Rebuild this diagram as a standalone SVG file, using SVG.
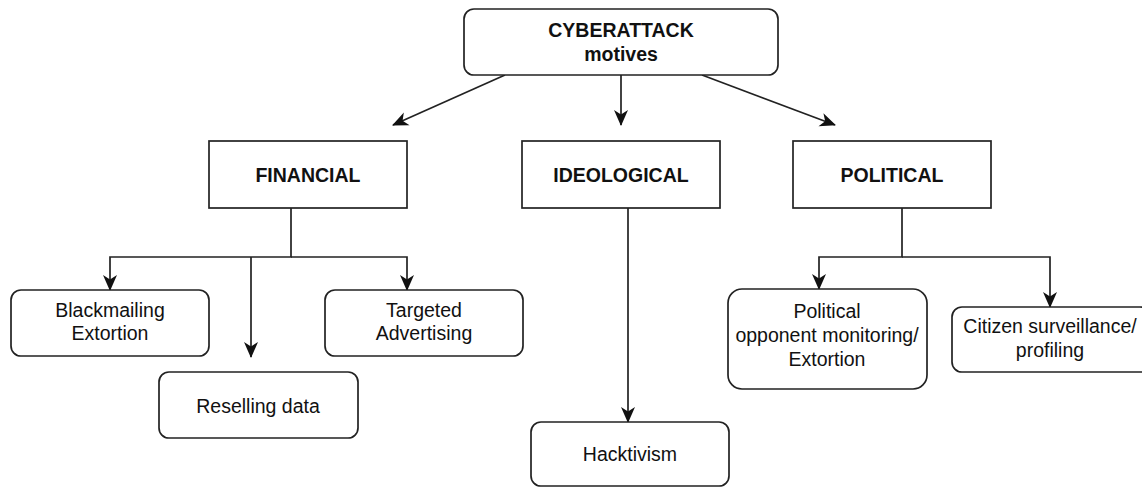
<svg xmlns="http://www.w3.org/2000/svg" width="1142" height="487" viewBox="0 0 1142 487">
  <defs>
    <marker id="arrow" viewBox="0 0 16 16" refX="15" refY="8" markerWidth="16" markerHeight="16" markerUnits="userSpaceOnUse" orient="auto">
      <path d="M0,1 L16,8 L0,15 L4.5,8 Z" fill="#111"/>
    </marker>
    <style>
      .box { fill: #fff; stroke: #222; stroke-width: 1.7; }
      .link { fill: none; stroke: #222; stroke-width: 1.7; }
      .label { font-family: "Liberation Sans", Arial, sans-serif; font-size: 19.5px; fill: #111; text-anchor: middle; }
      .bold { font-weight: bold; }
    </style>
  </defs>
  <rect width="1142" height="487" fill="#fff"/>

  <!-- connectors -->
  <g id="connectors">
    <line class="link" x1="505" y1="75" x2="393" y2="125" marker-end="url(#arrow)"/>
    <line class="link" x1="621" y1="75" x2="621" y2="125" marker-end="url(#arrow)"/>
    <line class="link" x1="702" y1="75" x2="835" y2="125" marker-end="url(#arrow)"/>
    <!-- financial branches -->
    <polyline class="link" points="291,208 291,257 110,257 110,290" marker-end="url(#arrow)"/>
    <polyline class="link" points="291,257 407,257 407,290" marker-end="url(#arrow)"/>
    <line class="link" x1="251" y1="257" x2="251" y2="357" marker-end="url(#arrow)"/>
    <!-- ideological branch -->
    <line class="link" x1="628" y1="208" x2="628" y2="422" marker-end="url(#arrow)"/>
    <!-- political branches -->
    <polyline class="link" points="902,208 902,257 819,257 819,289" marker-end="url(#arrow)"/>
    <polyline class="link" points="902,257 1050,257 1050,307" marker-end="url(#arrow)"/>
  </g>

  <g id="root">
    <rect class="box" x="464" y="9" width="314" height="66" rx="10"/>
    <text class="label bold" x="621" y="37">CYBERATTACK</text>
    <text class="label bold" x="621" y="61">motives</text>
  </g>

  <g id="financial">
    <rect class="box" x="209" y="141" width="198" height="67"/>
    <text class="label bold" x="308" y="182">FINANCIAL</text>
  </g>

  <g id="ideological">
    <rect class="box" x="522" y="141" width="198" height="67"/>
    <text class="label bold" x="621" y="182">IDEOLOGICAL</text>
  </g>

  <g id="political">
    <rect class="box" x="793" y="141" width="198" height="67"/>
    <text class="label bold" x="892" y="182">POLITICAL</text>
  </g>

  <g id="blackmailing">
    <rect class="box" x="11" y="290" width="198" height="66" rx="10"/>
    <text class="label" x="110" y="317">Blackmailing</text>
    <text class="label" x="110" y="340">Extortion</text>
  </g>

  <g id="reselling">
    <rect class="box" x="159" y="372" width="199" height="66" rx="10"/>
    <text class="label" x="258" y="413">Reselling data</text>
  </g>

  <g id="targeted">
    <rect class="box" x="325" y="290" width="198" height="66" rx="10"/>
    <text class="label" x="424" y="317">Targeted</text>
    <text class="label" x="424" y="340">Advertising</text>
  </g>

  <g id="hacktivism">
    <rect class="box" x="531" y="422" width="198" height="64" rx="10"/>
    <text class="label" x="630" y="461">Hacktivism</text>
  </g>

  <g id="opponent">
    <rect class="box" x="728" y="289" width="199" height="100" rx="14"/>
    <text class="label" x="827" y="318">Political</text>
    <text class="label" x="827" y="342">opponent monitoring/</text>
    <text class="label" x="827" y="366">Extortion</text>
  </g>

  <g id="citizen">
    <rect class="box" x="952" y="307" width="198" height="65" rx="10"/>
    <text class="label" x="1050" y="333">Citizen surveillance/</text>
    <text class="label" x="1050" y="357">profiling</text>
  </g>
</svg>
